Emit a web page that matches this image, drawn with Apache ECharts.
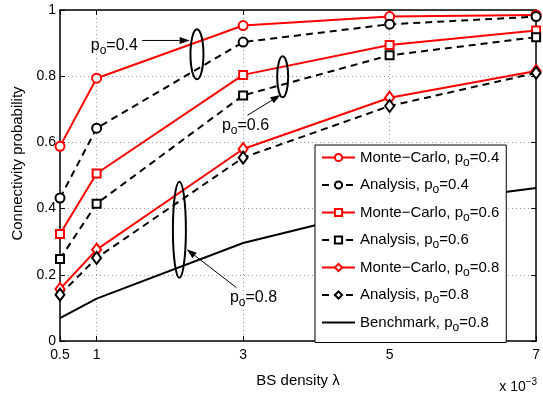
<!DOCTYPE html>
<html>
<head>
<meta charset="utf-8">
<script src="https://cdn.jsdelivr.net/npm/echarts@6/dist/echarts.min.js"></script>
<style>
  html, body { margin: 0; padding: 0; background: #fff; }
  #chart { width: 543px; height: 393px; }
</style>
</head>
<body>
<div id="chart"></div>
<script>
// BS density (x 10^-3)
const lambda = [0.5, 1, 3, 5, 7]
const xTicks = [0.5, 1, 3, 5, 7]

const mc04 = [0.588, 0.794, 0.953, 0.980, 0.985]
const an04 = [0.432, 0.643, 0.903, 0.957, 0.980]
const mc06 = [0.323, 0.506, 0.804, 0.894, 0.938]
const an06 = [0.248, 0.415, 0.742, 0.863, 0.918]
const mc08 = [0.157, 0.276, 0.580, 0.735, 0.816]
const an08 = [0.140, 0.251, 0.554, 0.710, 0.810]
const bench = [0.069, 0.128, 0.296, 0.405, 0.462]

const FONT = 'Liberation Sans, Arial, Helvetica, sans-serif'
const RED = '#ff0000'

const pair = (ys) => lambda.map((x, i) => [x, ys[i]])

function mc(name, ys, symbol, size) {
  return {
    name, type: 'line', data: pair(ys),
    symbol, symbolSize: size,
    lineStyle: { color: RED, width: 2 },
    itemStyle: { color: RED, borderColor: RED, borderWidth: 2 }
  }
}
function an(name, ys, symbol, size) {
  return {
    name, type: 'line', data: pair(ys),
    symbol, symbolSize: size,
    lineStyle: { color: '#000', width: 2, type: [7, 5] },
    itemStyle: { color: '#000', borderColor: '#000', borderWidth: 2 }
  }
}

const chart = echarts.init(document.getElementById('chart'))

const sub = { fontSize: 12, fontFamily: FONT, color: '#000', padding: [10, 0, 0, 0] }

const axisCommon = {
  type: 'value',
  axisLine: { show: true, onZero: false, lineStyle: { color: '#000', width: 1.5 } },
  axisTick: { show: true, inside: true, length: 5, lineStyle: { color: '#000' } },
  axisLabel: { color: '#000', fontSize: 14, fontFamily: FONT }
}

const names = [
  'Monte\u2212Carlo, p_o=0.4', 'Analysis, p_o=0.4',
  'Monte\u2212Carlo, p_o=0.6', 'Analysis, p_o=0.6',
  'Monte\u2212Carlo, p_o=0.8', 'Analysis, p_o=0.8',
  'Benchmark, p_o=0.8'
]

chart.setOption({
  animation: false,
  grid: { left: 60, right: 6, top: 10, bottom: 47 },
  xAxis: [
    {
      ...axisCommon,
      min: 0.5, max: 7,
      name: 'BS density λ',
      nameLocation: 'middle', nameGap: 32,
      nameTextStyle: { color: '#000', fontSize: 15, fontFamily: FONT },
      axisTick: { ...axisCommon.axisTick, customValues: xTicks },
      axisLabel: { ...axisCommon.axisLabel, customValues: xTicks, margin: 7 },
      splitLine: { show: true, lineStyle: { color: '#999', type: [1, 3] } }
    },
    {
      ...axisCommon,
      position: 'top',
      min: 0.5, max: 7,
      axisTick: { ...axisCommon.axisTick, customValues: xTicks },
      axisLabel: { show: false, customValues: xTicks },
      splitLine: { show: false }
    }
  ],
  yAxis: [
    {
      ...axisCommon,
      min: 0, max: 1, interval: 0.2,
      name: 'Connectivity probability',
      nameLocation: 'middle', nameGap: 35,
      nameTextStyle: { color: '#000', fontSize: 15, fontFamily: FONT, padding: [0, 0, 0, 24] },
      axisLabel: { ...axisCommon.axisLabel, margin: 4 },
      splitLine: { show: true, lineStyle: { color: '#999', type: [1, 3] } }
    },
    {
      ...axisCommon,
      position: 'right',
      min: 0, max: 1, interval: 0.2,
      axisLabel: { show: false },
      splitLine: { show: false }
    }
  ],
  legend: {
    orient: 'vertical',
    left: 315, top: 145,
    padding: [5, 7, 9, 6],
    itemGap: 9,
    itemWidth: 33, itemHeight: 9,
    backgroundColor: '#fff',
    borderColor: '#000', borderWidth: 1,
    data: names.map((n, i) => i === 6 ? { name: n, itemStyle: { opacity: 0 } } : n),
    formatter: (name) => name.replace(/p_o/, 'p{s|o}'),
    textStyle: {
      color: '#000', fontSize: 15, fontFamily: FONT,
      rich: { s: sub }
    }
  },
  series: [
    mc(names[0], mc04, 'emptyCircle', 9),
    an(names[1], an04, 'emptyCircle', 9),
    mc(names[2], mc06, 'emptyRect', 8),
    an(names[3], an06, 'emptyRect', 8),
    mc(names[4], mc08, 'emptyDiamond', [9, 12]),
    an(names[5], an08, 'emptyDiamond', [9, 12]),
    {
      name: names[6], type: 'line', data: pair(bench),
      symbol: 'none',
      lineStyle: { color: '#000', width: 2 },
      itemStyle: { color: '#000' }
    }
  ]
})

// annotations (ellipses, arrows, labels) placed in data coordinates
const px = (p) => chart.convertToPixel({ xAxisIndex: 0, yAxisIndex: 0 }, p)

function ellipse(c, rx, ry) {
  const [cx, cy] = px(c)
  return { type: 'ellipse', z: 10, shape: { cx, cy, rx, ry },
    style: { fill: 'none', stroke: '#000', lineWidth: 2 } }
}
function arrow(from, to) {
  const [x1, y1] = px(from)
  const [x2, y2] = px(to)
  const a = Math.atan2(y2 - y1, x2 - x1)
  const L = 10, W = 3.5
  const bx = x2 - L * Math.cos(a), by = y2 - L * Math.sin(a)
  const nx = -Math.sin(a), ny = Math.cos(a)
  return [
    { type: 'line', z: 10, shape: { x1, y1, x2: bx, y2: by }, style: { stroke: '#000', lineWidth: 1 } },
    { type: 'polygon', z: 10,
      shape: { points: [[x2, y2], [bx + nx * W, by + ny * W], [bx - nx * W, by - ny * W]] },
      style: { fill: '#000' } }
  ]
}
function label(p, txt) {
  const [x, y] = px(p)
  return { type: 'text', z: 10, x, y,
    style: { text: 'p{s|o}=' + txt, fontSize: 16, fontFamily: FONT, fill: '#000',
      verticalAlign: 'middle', rich: { s: sub } } }
}

const [gx2, gy2] = px([7, 0])
chart.setOption({
  graphic: [
    ellipse([2.37, 0.866], 6.5, 25),
    ...arrow([1.62, 0.908], [2.27, 0.908]),
    label([0.92, 0.893], '0.4'),
    ellipse([3.54, 0.798], 5.5, 20.5),
    ...arrow([3.06, 0.682], [3.51, 0.743]),
    label([2.71, 0.652], '0.6'),
    ellipse([2.13, 0.336], 6.5, 48),
    ...arrow([2.91, 0.161], [2.23, 0.277]),
    label([2.82, 0.131], '0.8'),
    {
      type: 'text', z: 10, x: gx2 + 1, y: gy2 + 46,
      style: { text: 'x 10{t|\u22123}', fontSize: 14, fontFamily: FONT, fill: '#000',
        align: 'right', verticalAlign: 'middle',
        rich: { t: { fontSize: 10, fontFamily: FONT, color: '#000', padding: [0, 0, 10, 0] } } }
    }
  ]
})
</script>
</body>
</html>
